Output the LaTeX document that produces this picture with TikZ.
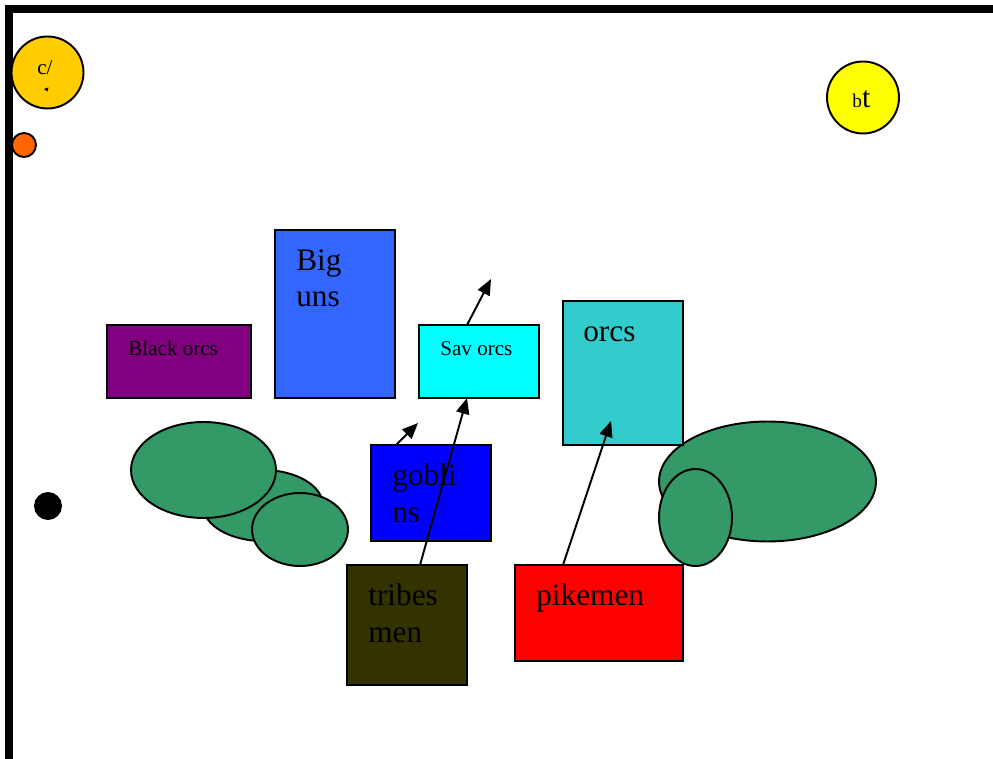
\documentclass[tikz,border=0pt]{standalone}
\usepackage{fontspec}
\setmainfont{Liberation Serif}
\usepackage{tikz}
\usetikzlibrary{arrows.meta,calc}

\definecolor{goldy}{HTML}{FFCC00}
\definecolor{orangy}{HTML}{FF6600}
\definecolor{lemon}{HTML}{FFFF00}
\definecolor{plum}{HTML}{800080}
\definecolor{bigblue}{HTML}{3366FF}
\definecolor{aqua}{HTML}{00FFFF}
\definecolor{tealish}{HTML}{33CCCC}
\definecolor{pureblue}{HTML}{0000FF}
\definecolor{mud}{HTML}{333300}
\definecolor{bushgreen}{HTML}{339966}

\newcommand{\smalltxt}{\fontsize{12}{14}\selectfont}
\newcommand{\bigtxt}{\fontsize{17.8}{21}\selectfont}

\begin{document}
\begin{tikzpicture}[x=0.02cm,y=-0.02cm,
    box/.style={draw,line width=1.1pt,rectangle,inner sep=0pt,outer sep=0pt},
    dot/.style={draw,line width=1.1pt,circle,inner sep=0pt,outer sep=0pt},
    blob/.style={draw,line width=1.1pt,fill=bushgreen},
    lbl/.style={inner sep=0pt,anchor=base west,align=left},
    arr/.style={-{Triangle[length=9pt,width=7.5pt]},line width=1.1pt}]
  \useasboundingbox (0,0) rectangle (993,759);
  % frame
  \draw[line width=4.5pt] (9,759) -- (9,9) -- (993,9);
  % circles
  \node[dot,fill=goldy,minimum size=1.44cm] (cslash) at (47.5,72.5) {};
  \node[lbl,font=\smalltxt] (cslashlbl) at (37,75) {c/};
  \fill (44,89) -- (48.5,87.5) -- (47.5,91.5) -- cycle;
  \node[dot,fill=orangy,minimum size=0.48cm] (orangedot) at (24,145) {};
  \node[dot,fill=lemon,minimum size=1.44cm] (btcircle) at (863,97.5) {};
  \node[lbl] (btlbl) at (852,108) {{\fontsize{11}{13}\selectfont b}{\fontsize{17}{20}\selectfont t}};
  \node[dot,fill=black,minimum size=0.52cm] (blackdot) at (48,506) {};
  % bushes
  \draw[blob] (263,505.5) ellipse [x radius=1.2cm,y radius=0.71cm];
  \draw[blob] (203.5,470) ellipse [x radius=1.45cm,y radius=0.96cm];
  \draw[blob] (300,529.5) ellipse [x radius=0.96cm,y radius=0.73cm];
  \draw[blob] (767.5,481.5) ellipse [x radius=2.17cm,y radius=1.2cm];
  \draw[blob] (695.5,517.5) ellipse [x radius=0.73cm,y radius=0.97cm];
  % units (two-line labels sit on their last baseline)
  \node[box,fill=plum,minimum width=2.88cm,minimum height=1.46cm] (blackorcs) at (179,361.5) {};
  \node[lbl,font=\smalltxt] (blackorcslbl) at (128,356) {Black orcs};
  \node[box,fill=bigblue,minimum width=2.4cm,minimum height=3.36cm] (biguns) at (335,314) {};
  \node[lbl,font=\bigtxt] (bigunslbl) at (296,307) {Big\\uns};
  \node[box,fill=aqua,minimum width=2.4cm,minimum height=1.46cm] (savorcs) at (479,361.5) {};
  \node[lbl,font=\smalltxt] (savorcslbl) at (440,356) {Sav orcs};
  \node[box,fill=tealish,minimum width=2.4cm,minimum height=2.88cm] (orcs) at (623,373) {};
  \node[lbl,font=\bigtxt] (orcslbl) at (583,342) {orcs};
  \node[box,fill=pureblue,minimum width=2.4cm,minimum height=1.92cm] (goblins) at (431,493) {};
  \node[lbl,font=\bigtxt] (goblinslbl) at (392,522) {gobli\\ns};
  \node[box,fill=mud,minimum width=2.4cm,minimum height=2.4cm] (tribesmen) at (407,625) {};
  \node[lbl,font=\bigtxt] (tribesmenlbl) at (368,642) {tribes\\men};
  \node[box,fill=red,minimum width=3.36cm,minimum height=1.92cm] (pikemen) at (599,613) {};
  \node[lbl,font=\bigtxt] (pikemenlbl) at (536,605) {pikemen};
  % moves
  \coordinate (savtip) at (491,279);
  \coordinate (gobtip) at (418,423);
  \draw[arr] ($(savorcs.north)+(-12,0)$) -- (savtip);
  \draw[arr] ($(goblins.north)+(-35,0)$) -- (gobtip);
  \draw[arr] ($(tribesmen.north)+(13,0)$) -- ($(savorcs.south)+(-12,0)$);
  \draw[arr] ($(pikemen.north)+(-36,0)$) -- ($(orcs.south)+(-12,-24)$);
\end{tikzpicture}
\end{document}
